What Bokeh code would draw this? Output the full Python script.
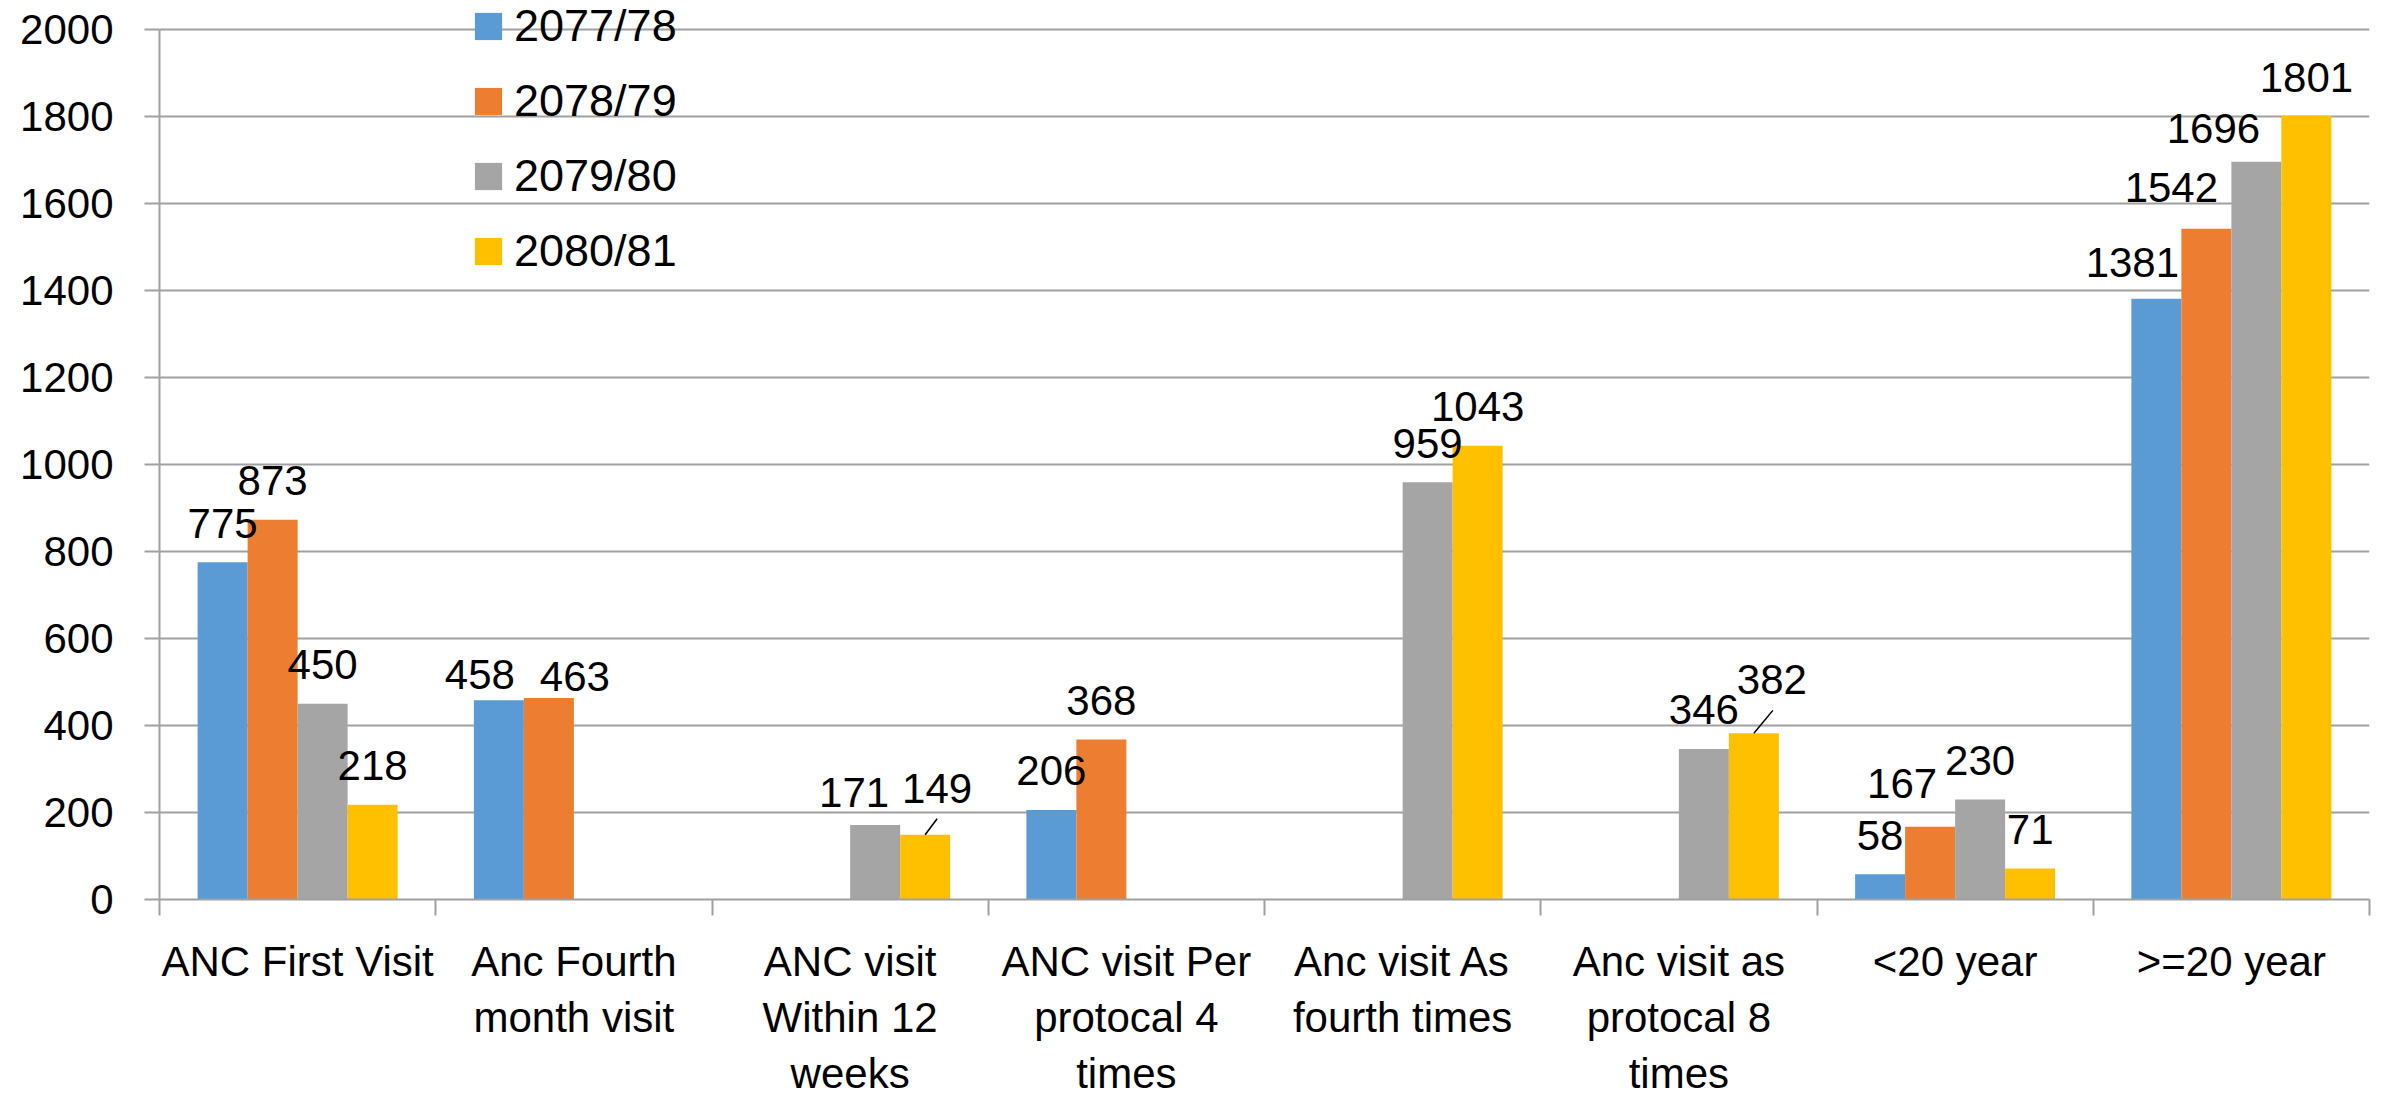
import math
from bokeh.plotting import figure
from bokeh.models import (Range1d, FixedTicker, LinearAxis, Legend, LegendItem,
                          ColumnDataSource)
from bokeh.core.properties import value
from bokeh.embed import file_html
from bokeh.resources import INLINE

# ---------------- data ----------------
categories = ["ANC First Visit", "Anc Fourth month visit", "ANC visit Within 12 weeks",
              "ANC visit Per protocal 4 times", "Anc visit As fourth times",
              "Anc visit as protocal 8 times", "<20 year", ">=20 year"]
category_labels = ["ANC First Visit", "Anc Fourth\nmonth visit", "ANC visit\nWithin 12\nweeks",
                   "ANC visit Per\nprotocal 4\ntimes", "Anc visit As\nfourth times",
                   "Anc visit as\nprotocal 8\ntimes", "<20 year", ">=20 year"]
series_names = ["2077/78", "2078/79", "2079/80", "2080/81"]
nan = float("nan")
v_2077_78 = [775, 458, nan, 206, nan, nan, 58, 1381]
v_2078_79 = [873, 463, nan, 368, nan, nan, 167, 1542]
v_2079_80 = [450, nan, 171, nan, 959, 346, 230, 1696]
v_2080_81 = [218, nan, 149, nan, 1043, 382, 71, 1801]
y_ticks = [0, 200, 400, 600, 800, 1000, 1200, 1400, 1600, 1800, 2000]

series_values = [v_2077_78, v_2078_79, v_2079_80, v_2080_81]

# ---------------- style ----------------
colors = ["#5B9BD5", "#ED7D31", "#A5A5A5", "#FFC000"]
FONT = "Liberation Sans"
GRID = "#A0A0A0"
bar_w = 0.181
offsets = [-1.5 * bar_w, -0.5 * bar_w, 0.5 * bar_w, 1.5 * bar_w]
W, H = 2380, 1100
B_LEFT, B_RIGHT, B_TOP, B_BOTTOM = 159, 11, 0, 199
PLOT_TOP = 29          # px from canvas top to the top gridline
frame_w = W - B_LEFT - B_RIGHT
frame_h = H - B_TOP - B_BOTTOM
px_x = frame_w / len(categories)
px_y = (frame_h - PLOT_TOP) / (y_ticks[-1] - y_ticks[0])
y_end = y_ticks[0] + frame_h / px_y
label_gap = 39
# manual label nudges (series, category) -> (dx px, gap px above bar top)
label_nudge = {(0, 1): (-19, 26), (1, 1): (26, 22), (2, 2): (-21, 33), (3, 2): (12, 46),
               (3, 5): (18, 54), (1, 6): (-28, 43), (0, 7): (-24, 36), (1, 7): (-35, 41),
               (2, 7): (-43, 33)}
# leader lines (series, category) -> (dx px, dy px) from bar top
leaders = {(3, 2): (12, 16), (3, 5): (19, 23)}

p = figure(width=W, height=H, output_backend="svg", toolbar_location=None,
           x_range=Range1d(0, len(categories)), y_range=Range1d(y_ticks[0], y_end),
           x_axis_location=None, y_axis_location=None,
           min_border_left=B_LEFT, min_border_right=B_RIGHT,
           min_border_top=B_TOP, min_border_bottom=B_BOTTOM)
p.outline_line_color = None
p.background_fill_color = "white"
p.border_fill_color = "white"

centers = [i + 0.5 for i in range(len(categories))]

renderers = []
lab = dict(x=[], y=[], text=[], xo=[], yo=[])
lead = dict(x0=[], y0=[], x1=[], y1=[])
for s, vals in enumerate(series_values):
    xs = [c + offsets[s] for c in centers]
    src = ColumnDataSource(dict(x=xs, top=vals))
    r = p.vbar(x="x", top="top", width=bar_w, source=src, fill_color=colors[s],
               line_color=None)
    renderers.append(r)
    for i, v in enumerate(vals):
        if math.isnan(v):
            continue
        dx, gap = label_nudge.get((s, i), (0, label_gap))
        lab["x"].append(xs[i]); lab["y"].append(v); lab["text"].append(str(v))
        lab["xo"].append(dx); lab["yo"].append(-gap)
        if (s, i) in leaders:
            ldx, ldy = leaders[(s, i)]
            lead["x0"].append(xs[i]); lead["y0"].append(v)
            lead["x1"].append(xs[i] + ldx / px_x); lead["y1"].append(v + ldy / px_y)

p.text(x="x", y="y", text="text", x_offset="xo", y_offset="yo", source=ColumnDataSource(lab),
       text_font=value(FONT), text_font_size="42px", text_align="center",
       text_baseline="middle", text_color="black")
p.segment(x0="x0", y0="y0", x1="x1", y1="y1", source=ColumnDataSource(lead),
          line_color="black", line_width=1.5)

# y axis
yax = LinearAxis(ticker=FixedTicker(ticks=y_ticks), bounds=(y_ticks[0], y_ticks[-1]))
yax.axis_line_color = GRID
yax.axis_line_width = 2
yax.major_tick_line_color = GRID
yax.major_tick_line_width = 2
yax.major_tick_out = 15
yax.major_tick_in = 0
yax.minor_tick_line_color = None
yax.major_label_standoff = 31
yax.major_label_text_font = FONT
yax.major_label_text_font_size = "42px"
yax.major_label_text_color = "black"
p.add_layout(yax, "left")

# x axis: category labels at centres, boundary tick marks as minor ticks
xax = LinearAxis(ticker=FixedTicker(ticks=centers,
                                    minor_ticks=list(range(len(categories) + 1))))
xax.major_label_overrides = {c: lbl for c, lbl in zip(centers, category_labels)}
xax.axis_line_color = GRID
xax.axis_line_width = 2
xax.major_tick_out = 0
xax.major_tick_in = 0
xax.major_tick_line_color = None
xax.minor_tick_out = 16
xax.minor_tick_in = 0
xax.minor_tick_line_color = GRID
xax.minor_tick_line_width = 2
xax.major_label_standoff = 22
xax.major_label_text_font = FONT
xax.major_label_text_font_size = "42px"
xax.major_label_text_line_height = 1.2
xax.major_label_text_color = "black"
xax.major_label_text_align = "center"
p.add_layout(xax, "below")

p.ygrid.ticker = FixedTicker(ticks=y_ticks)
p.ygrid.grid_line_color = GRID
p.ygrid.grid_line_width = 2
p.xgrid.visible = False

legend = Legend(items=[LegendItem(label=n, renderers=[r]) for n, r in zip(series_names, renderers)],
                location=(312, 622), orientation="vertical",
                glyph_width=34, glyph_height=34, label_standoff=9, spacing=23,
                padding=0, margin=0, border_line_alpha=0, background_fill_alpha=0,
                label_text_font=FONT, label_text_font_size="45px", label_height=48,
                label_text_color="black")
p.add_layout(legend)

open("out.html", "w").write(file_html(p, INLINE))
